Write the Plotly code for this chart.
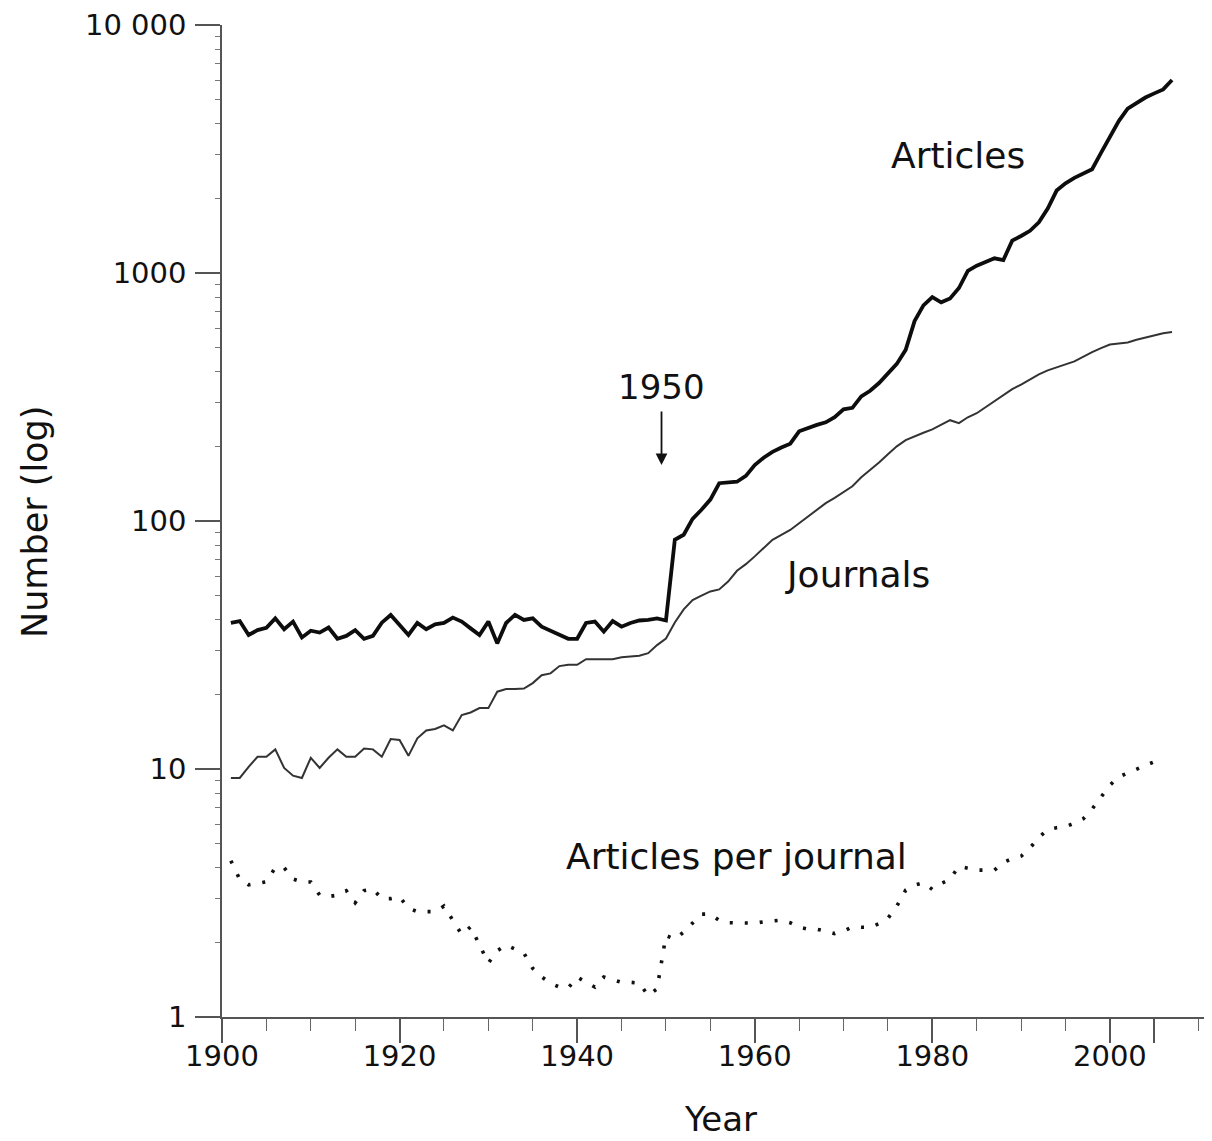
import math
import plotly.graph_objects as go

# ---------------- data ----------------
years = list(range(1901, 2008))
articles = [
    38.8, 39.5, 34.7, 36.3, 37.1, 40.5, 36.6, 39.3, 33.9, 36.1,
    35.5, 37.2, 33.5, 34.4, 36.3, 33.5, 34.4, 38.9, 41.8, 38.1,
    34.7, 38.8, 36.6, 38.3, 38.8, 40.8, 39.3, 36.9, 34.7, 39.3,
    32.1, 38.8, 41.8, 39.9, 40.5, 37.5, 36.1, 34.7, 33.5, 33.5,
    38.8, 39.3, 35.8, 39.5, 37.5, 38.8, 39.7, 39.9, 40.5, 39.7,
    84, 88, 102, 111, 122, 142, 143, 144, 152, 168,
    180, 190, 198, 205, 230, 238, 244, 250, 262, 282,
    286, 318, 335, 360, 395, 430, 490, 640, 740, 800,
    762, 790, 870, 1020, 1070, 1110, 1146, 1128, 1350, 1410,
    1480, 1600, 1820, 2150, 2300, 2420, 2520, 2620, 3050, 3550,
    4100, 4600, 4850, 5100, 5300, 5500, 6000,
]
journals = [
    9.2, 9.2, 10.2, 11.2, 11.2, 12.0, 10.1, 9.4, 9.2, 11.1,
    10.1, 11.1, 12.0, 11.2, 11.2, 12.1, 12.0, 11.2, 13.2, 13.1,
    11.3, 13.3, 14.3, 14.5, 15.0, 14.3, 16.5, 16.9, 17.6, 17.6,
    20.5, 21.0, 21.0, 21.1, 22.2, 23.9, 24.3, 26.0, 26.3, 26.3,
    27.7, 27.7, 27.7, 27.7, 28.2, 28.4, 28.6, 29.3, 31.6, 33.6,
    39, 44, 48, 50, 52, 53, 57, 63, 67, 72,
    78, 84, 88, 92, 98, 104, 111, 118, 124, 131,
    138, 150, 160, 172, 186, 200, 212, 220, 227, 234,
    245, 255, 248, 262, 272, 288, 305, 322, 340, 355,
    372, 390, 405, 415, 428, 440, 460, 480, 498, 515,
    520, 525, 538, 550, 560, 572, 578,
]
ratio_years = list(range(1901, 2006))
ratio = [
    4.27, 3.59, 3.41, 3.45, 3.51, 4.0, 4.0, 3.6, 3.5, 3.5,
    3.1, 3.06, 3.1, 3.23, 2.89, 3.23, 3.28, 3.0, 3.0, 3.05,
    2.75, 2.66, 2.66, 2.66, 2.8, 2.44, 2.15, 2.31, 1.95, 1.65,
    1.85, 1.95, 1.88, 1.81, 1.57, 1.45, 1.37, 1.32, 1.31, 1.45,
    1.38, 1.32, 1.45, 1.42, 1.38, 1.38, 1.37, 1.22, 1.3, 2.13,
    2.06, 2.2, 2.4, 2.6, 2.6, 2.45, 2.4, 2.39, 2.39, 2.39,
    2.42, 2.44, 2.46, 2.4, 2.3, 2.26, 2.26, 2.22, 2.17, 2.22,
    2.31, 2.3, 2.3, 2.38, 2.5, 2.8, 3.25, 3.4, 3.48, 3.27,
    3.45, 3.6, 4.05, 3.98, 3.91, 3.91, 3.91, 4.2, 4.35, 4.45,
    4.8, 5.3, 5.7, 5.8, 5.85, 6.05, 6.3, 6.9, 7.7, 8.6,
    9.3, 9.65, 10.0, 10.3, 10.7,
]

x_tick_vals = [1900, 1920, 1940, 1960, 1980, 2000, 2005]
x_tick_text = ["1900", "1920", "1940", "1960", "1980", "2000", ""]
y_tick_vals = [1, 10, 100, 1000, 10000]
y_tick_text = ["1", "10", "100", "1000", "10 000"]

FONT = "DejaVu Sans"
INK = "#111111"

fig = go.Figure()
fig.add_trace(go.Scatter(x=years, y=articles, mode="lines",
                         line=dict(color="#0d0d0d", width=3.8), name="Articles"))
fig.add_trace(go.Scatter(x=years, y=journals, mode="lines",
                         line=dict(color="#333333", width=2), name="Journals"))
fig.add_trace(go.Scatter(x=ratio_years, y=ratio, mode="lines",
                         line=dict(color="#111111", width=3.6, dash="3px,12px"),
                         name="Articles per journal"))

fig.update_layout(
    width=1204, height=1133,
    margin=dict(l=214, r=0, t=17, b=124),
    paper_bgcolor="white", plot_bgcolor="white",
    showlegend=False,
    font=dict(family=FONT, color=INK),
    xaxis=dict(
        range=[1900, 2011.5], showgrid=False, zeroline=False,
        showline=True, linecolor="#555555", linewidth=1.5,
        ticks="outside", tickvals=x_tick_vals, ticktext=x_tick_text,
        ticklen=24, tickwidth=1.5, tickcolor="#555555",
        ticklabelstandoff=-12,
        tickfont=dict(size=29, family=FONT, color=INK),
        minor=dict(ticks="outside", dtick=5, tick0=1900, ticklen=12,
                   tickwidth=1.2, tickcolor="#666666", showgrid=False),
    ),
    yaxis=dict(
        type="log", range=[0, 4], showgrid=False, zeroline=False,
        showline=True, linecolor="#555555", linewidth=1.5,
        ticks="outside", tickvals=y_tick_vals, ticktext=y_tick_text,
        ticklen=25, tickwidth=1.5, tickcolor="#555555",
        ticklabelstandoff=3,
        tickfont=dict(size=29, family=FONT, color=INK),
        minor=dict(ticks="outside", dtick="D1", ticklen=5,
                   tickwidth=1, tickcolor="#777777", showgrid=False),
    ),
)

ann_font = dict(size=36, family=FONT, color=INK)
fig.add_annotation(x=1982.9, y=math.log10(2990), text="Articles",
                   showarrow=False, font=ann_font)
fig.add_annotation(x=1971.6, y=math.log10(60.6), text="Journals",
                   showarrow=False, font=ann_font)
fig.add_annotation(x=1958.0, y=math.log10(4.42), text="Articles per journal",
                   showarrow=False, font=ann_font)
fig.add_annotation(x=1949.5, y=math.log10(347), text="1950",
                   showarrow=False, font=dict(size=34, family=FONT, color=INK))
fig.add_annotation(x=1949.5, y=math.log10(168), text="", showarrow=True,
                   ax=0, ay=-55, arrowhead=2, arrowsize=1.3, arrowwidth=1.8,
                   arrowcolor=INK)

# axis titles (plot area: 990 x 992 px)
fig.add_annotation(xref="paper", yref="paper", x=(720 - 222) / 990, y=-(1119 - 1017) / 992,
                   xanchor="center", yanchor="middle",
                   text="Year", showarrow=False, font=dict(size=34, family=FONT, color=INK))
fig.add_annotation(xref="paper", yref="paper", x=-(222 - 35) / 990, y=(1017 - 522) / 992,
                   xanchor="center", yanchor="middle",
                   text="Number (log)", showarrow=False, textangle=-90,
                   font=dict(size=35, family=FONT, color=INK))

fig.write_html("out.html")
